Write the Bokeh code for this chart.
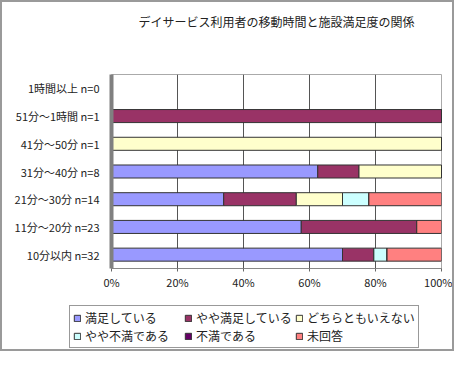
from bokeh.plotting import figure
from bokeh.layouts import column
from bokeh.models import ColumnDataSource, FactorRange, Range1d, Legend, LegendItem, FixedTicker, CustomJSTickFormatter, Title
from bokeh.embed import file_html
from bokeh.resources import INLINE

categories = ["10分以内 n=32", "11分～20分 n=23", "21分～30分 n=14", "31分～40分 n=8",
              "41分～50分 n=1", "51分～1時間 n=1", "1時間以上 n=0"]
series = ["満足している", "やや満足している", "どちらともいえない", "やや不満である", "不満である", "未回答"]
manzoku = [70, 57.5, 34, 62.5, 0, 0, 0]
yaya_manzoku = [9.5, 35, 22, 12.5, 0, 100, 0]
dochira = [0, 0, 14, 25, 100, 0, 0]
yaya_fuman = [4, 0, 8, 0, 0, 0, 0]
fuman = [0, 0, 0, 0, 0, 0, 0]
mikaitou = [16.5, 7.5, 22, 0, 0, 0, 0]
x_ticks = [0, 20, 40, 60, 80, 100]
colors = ["#9999FF", "#993366", "#FFFFCC", "#CCFFFF", "#660066", "#FF8080"]
title_text = "デイサービス利用者の移動時間と施設満足度の関係"

keys = ["s0", "s1", "s2", "s3", "s4", "s5"]
source = ColumnDataSource(data=dict(cat=categories, s0=manzoku, s1=yaya_manzoku, s2=dochira,
                                    s3=yaya_fuman, s4=fuman, s5=mikaitou))

JP = "Noto Sans CJK JP"

p = figure(width=450, height=290, y_range=FactorRange(*categories), x_range=Range1d(0, 100),
           output_backend="svg", toolbar_location=None, title=None,
           min_border_left=109, min_border_right=11, min_border_top=0, min_border_bottom=22)

# spacer between title and plot area, then the title itself (stacked outward)
p.add_layout(Title(text=" ", text_font_size="1px", standoff=33), "above")
p.add_layout(Title(text=title_text, align="center", text_font=JP, text_font_size="12px",
                   text_font_style="normal", text_color="#222222", standoff=17), "above")

renderers = p.hbar_stack(keys, y="cat", height=0.47, source=source, color=colors,
                         line_color="#333333", line_width=1)

p.xaxis.ticker = FixedTicker(ticks=x_ticks)
p.xaxis.formatter = CustomJSTickFormatter(code="return tick + '%';")
p.xaxis.major_label_text_font = JP
p.xaxis.major_label_text_font_size = "11px"
p.xaxis.major_label_text_color = "#222222"
p.xaxis.axis_line_color = "#888888"
p.xaxis.major_tick_line_color = "#666666"
p.xaxis.major_tick_in = 0
p.xaxis.major_tick_out = 3
p.xaxis.minor_tick_line_color = None
p.xaxis.major_label_standoff = 2

p.yaxis.major_label_text_font = JP
p.yaxis.major_label_text_font_size = "11px"
p.yaxis.major_label_text_color = "#222222"
p.yaxis.axis_line_color = "#808080"
p.yaxis.axis_line_width = 4
p.yaxis.major_tick_line_color = None
p.yaxis.major_label_standoff = 6

p.xgrid.grid_line_color = "#555555"
p.xgrid.grid_line_width = 1
p.ygrid.grid_line_color = None
p.outline_line_color = "#aaaaaa"

# legend panel: a second figure that carries the legend, using the same data source
q = figure(width=450, height=57, y_range=FactorRange(*categories), x_range=Range1d(0, 100),
           output_backend="svg", toolbar_location=None,
           x_axis_location=None, y_axis_location=None,
           min_border_left=0, min_border_right=0, min_border_top=0, min_border_bottom=0)
q.frame_align = False
q.grid.visible = False
q.outline_line_color = None
lrs = q.hbar_stack(keys, y="cat", height=0.47, source=source, color=colors,
                   line_color="#333333", line_width=1)
for r in lrs:
    r.visible = False

order = [0, 3, 1, 4, 2, 5]
items = [LegendItem(label=series[i], renderers=[lrs[i]]) for i in order]
legend = Legend(items=items, nrows=2, location=(67, 1),
                label_text_font=JP, label_text_font_size="12px", label_text_color="#222222",
                glyph_width=8, glyph_height=8, label_standoff=4, spacing=1,
                label_height=14, label_width=98, padding=3, margin=0,
                border_line_color="#333333", border_line_width=1,
                background_fill_color="white", background_fill_alpha=1)
q.add_layout(legend, "center")

layout = column(p, q, spacing=0)
layout.styles = {"border": "2px solid #9a9a9a"}

open("out.html", "w").write(file_html(layout, INLINE))
